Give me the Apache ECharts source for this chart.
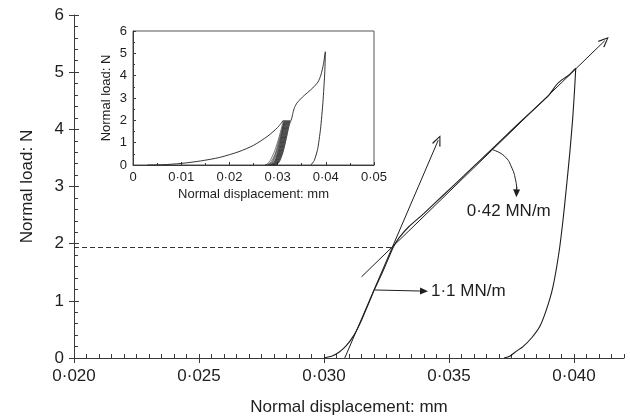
<!DOCTYPE html>
<html>
<head>
<meta charset="utf-8">
<script src="https://cdn.jsdelivr.net/npm/echarts@6/dist/echarts.min.js"></script>
<style>
html, body { margin: 0; padding: 0; background: #fff; }
#chart { width: 630px; height: 419px; }
</style>
</head>
<body>
<div id="chart"></div>
<script>
// tick labels
var xTicks = [0.020, 0.025, 0.030, 0.035, 0.040];
var yTicks = [0, 1, 2, 3, 4, 5, 6];

// main plot: last load / unload cycle
var mainLoad = [[0.0300, 0], [0.0303, 0.03], [0.0306, 0.1], [0.0309, 0.22], [0.0312, 0.4],
  [0.0315, 0.66], [0.0320, 1.18], [0.0324, 1.56], [0.03276, 1.93], [0.0330, 2.1],
  [0.0334, 2.3], [0.0340, 2.53], [0.0348, 2.86], [0.0356, 3.19], [0.0368, 3.69],
  [0.0380, 4.19], [0.0390, 4.6], [0.0393, 4.78], [0.0395, 4.86], [0.0398, 4.95],
  [0.0400, 5.04], [0.04007, 5.07]];
var mainUnload = [[0.04007, 5.07], [0.04003, 4.75], [0.03995, 4.2], [0.03983, 3.58],
  [0.0397, 3.0], [0.03956, 2.41], [0.0394, 1.85], [0.03916, 1.25], [0.0389, 0.85],
  [0.03863, 0.55], [0.0383, 0.35], [0.03796, 0.2], [0.0377, 0.12], [0.03743, 0.03], [0.0372, 0]];

// stiffness lines and annotations
var tangentSteep = [[0.03083, 0], [0.03457, 3.81]];
var tangentShallow = [[0.0315, 1.42], [0.04123, 5.55]];
var crossPoint = [0.03276, 1.93];
var steepArrow = [[0.03203, 1.19], [0.0340, 1.17]];
var shallowArc = [[0.03676, 3.64], [0.03722, 3.53], [0.03752, 3.32], [0.03767, 3.1], [0.03771, 2.96]];
var shallowTip = [[0.03771, 3.0], [0.0377, 2.88]];
var shallowLabelAt = [0.03739, 2.56];
var stiffLabels = ['1\u00b71 MN/m', '0\u00b742 MN/m'];

// inset: whole test
var insetFirstLoad = [[0.003, 0], [0.006, 0.01], [0.010, 0.07], [0.014, 0.18], [0.018, 0.34],
  [0.022, 0.6], [0.025, 0.88], [0.028, 1.3], [0.030, 1.68], [0.0312, 2.0]];
var insetLoops = [
  [[0.0312, 2.0], [0.0305, 1.4], [0.0296, 0.75], [0.0286, 0.25], [0.0279, 0.05], [0.0274, 0],
   [0.0284, 0.08], [0.0294, 0.45], [0.0303, 1.1], [0.0309, 1.6], [0.0314, 2.0]],
  [[0.0314, 2.0], [0.0308, 1.4], [0.0300, 0.75], [0.0291, 0.22], [0.0284, 0.04], [0.0280, 0],
   [0.0289, 0.1], [0.0298, 0.5], [0.0306, 1.15], [0.0311, 1.65], [0.0316, 2.0]],
  [[0.0316, 2.0], [0.0310, 1.4], [0.0303, 0.75], [0.0295, 0.22], [0.0288, 0.04], [0.0284, 0],
   [0.0293, 0.12], [0.0301, 0.55], [0.0308, 1.2], [0.0313, 1.7], [0.0318, 2.0]],
  [[0.0318, 2.0], [0.0312, 1.4], [0.0305, 0.75], [0.0297, 0.22], [0.0291, 0.04], [0.0287, 0],
   [0.0295, 0.12], [0.0303, 0.55], [0.0310, 1.2], [0.0315, 1.7], [0.0320, 2.0]],
  [[0.0320, 2.0], [0.0314, 1.4], [0.0307, 0.75], [0.0299, 0.22], [0.0293, 0.04], [0.0290, 0],
   [0.0297, 0.12], [0.0305, 0.55], [0.0312, 1.2], [0.0317, 1.7], [0.0322, 2.0]],
  [[0.0322, 2.0], [0.0316, 1.4], [0.0309, 0.75], [0.0301, 0.22], [0.0295, 0.04], [0.0292, 0],
   [0.0299, 0.12], [0.0307, 0.55], [0.0314, 1.2], [0.0319, 1.7], [0.0324, 2.0]],
  [[0.0324, 2.0], [0.0318, 1.4], [0.0311, 0.75], [0.0303, 0.22], [0.0297, 0.04], [0.0294, 0],
   [0.0301, 0.12], [0.0309, 0.55], [0.0316, 1.2], [0.0321, 1.7], [0.0326, 2.0]],
  [[0.0326, 2.0], [0.0320, 1.4], [0.0313, 0.75], [0.0305, 0.22], [0.0299, 0.04], [0.0297, 0],
   [0.0303, 0.12], [0.0311, 0.55], [0.0318, 1.2], [0.0323, 1.7], [0.0328, 2.0]]
];
var insetFinalLoad = [[0.0328, 2.0], [0.0330, 2.15], [0.0332, 2.35], [0.0335, 2.57], [0.0340, 2.77],
  [0.0352, 3.05], [0.0373, 3.45], [0.0384, 3.72], [0.0390, 4.04], [0.0395, 4.5], [0.0399, 5.07]];
var insetFinalUnload = [[0.0399, 5.07], [0.0398, 4.2], [0.0394, 2.8], [0.0389, 1.6],
  [0.0383, 0.7], [0.0376, 0.2], [0.0369, 0]];

var FONT = 'Liberation Sans, Arial, sans-serif';
var INK = '#1e1e1e';
var AXIS = '#3a3a3a';
var openHead = 'path://M5,0 L10,9 L8.8,9.6 L5,2.2 L1.2,9.6 L0,9 Z';

function dotFmt(d) {
  return function (v) { return v === 0 ? '0' : v.toFixed(d).replace('.', '\u00b7'); };
}
function curve(data, xi, w, sm) {
  return {
    type: 'line', data: data, xAxisIndex: xi, yAxisIndex: xi, showSymbol: false,
    symbol: 'none', smooth: sm, silent: true, animation: false, z: 3,
    lineStyle: { color: INK, width: w }
  };
}

var series = [
  curve(mainLoad, 0, 1.1, 0.12),
  curve(mainUnload, 0, 1.1, 0.2),
  curve(insetFirstLoad, 2, 0.9, 0.25),
  curve(insetFinalLoad, 2, 0.9, 0.2),
  curve(insetFinalUnload, 2, 0.9, 0.2)
];
insetLoops.forEach(function (loop) { series.push(curve(loop, 2, 0.6, 0.25)); });

series.push({
  type: 'line', data: [], xAxisIndex: 0, yAxisIndex: 0, silent: true, animation: false,
  markLine: {
    silent: true, animation: false, precision: 6,
    label: { show: false },
    lineStyle: { color: INK, width: 1, type: 'solid' },
    data: [
      [{ coord: tangentSteep[0], symbol: 'none' },
       { coord: tangentSteep[1], symbol: openHead, symbolSize: [9, 11] }],
      [{ coord: tangentShallow[0], symbol: 'none' },
       { coord: tangentShallow[1], symbol: openHead, symbolSize: [9, 11] }],
      [{ coord: [xTicks[0], crossPoint[1]], symbol: 'none', lineStyle: { type: [5, 3], width: 0.9 } },
       { coord: crossPoint, symbol: 'none' }],
      [{ coord: steepArrow[0], symbol: 'none',
         label: { show: true, position: 'end', distance: 7, formatter: stiffLabels[0],
                  color: INK, fontSize: 17, fontFamily: FONT } },
       { coord: steepArrow[1], symbol: 'triangle', symbolSize: [7, 8] }],
      [{ coord: shallowTip[0], symbol: 'none' },
       { coord: shallowTip[1], symbol: 'triangle', symbolSize: [7, 8] }]
    ]
  },
  markPoint: {
    silent: true, animation: false, symbol: 'circle', symbolSize: 0,
    label: { show: true, position: 'inside', color: INK, fontSize: 17, fontFamily: FONT,
             formatter: function (p) { return p.name; } },
    data: [{ name: stiffLabels[1], coord: shallowLabelAt }]
  }
});

// curved pointer to the shallow line
series.push(curve(shallowArc, 0, 1, 0.5));

var chart = echarts.init(document.getElementById('chart'), null, { renderer: 'canvas' });
chart.setOption({
  animation: false,
  textStyle: { fontFamily: FONT },
  grid: [
    { left: 74, top: 15, right: 6, bottom: 61, outerBoundsMode: 'none', containLabel: false },
    { left: 133, top: 31, width: 241, height: 134, show: true, borderColor: '#555', borderWidth: 1,
      outerBoundsMode: 'none', containLabel: false }
  ],
  xAxis: [
    { type: 'value', gridIndex: 0, position: 'bottom', min: 0.020, max: 0.042, interval: 0.0005,
      axisLine: { lineStyle: { color: AXIS, width: 1 } },
      axisTick: { inside: true, length: 4, lineStyle: { color: AXIS } },
      axisLabel: { customValues: xTicks, formatter: dotFmt(3), color: INK, fontSize: 17, margin: 10 },
      splitLine: { show: false },
      name: 'Normal displacement: mm', nameLocation: 'middle', nameGap: 41, nameMoveOverlap: false,
      nameTextStyle: { color: INK, fontSize: 17 } },
    { type: 'value', gridIndex: 0, position: 'bottom', min: 0.020, max: 0.042,
      axisLine: { show: false },
      axisTick: { customValues: xTicks, inside: false, length: 5, lineStyle: { color: AXIS } },
      axisLabel: { show: false }, splitLine: { show: false } },
    { type: 'value', gridIndex: 1, position: 'bottom', min: 0, max: 0.05, interval: 0.01,
      axisLine: { lineStyle: { color: AXIS } },
      axisTick: { inside: true, length: 3, lineStyle: { color: AXIS } },
      minorTick: { show: true, splitNumber: 2, length: 2, lineStyle: { color: AXIS } },
      axisLabel: { formatter: dotFmt(2), color: INK, fontSize: 13, margin: 6 },
      splitLine: { show: false },
      name: 'Normal displacement: mm', nameLocation: 'middle', nameGap: 23, nameMoveOverlap: false,
      nameTextStyle: { color: INK, fontSize: 13 } }
  ],
  yAxis: [
    { type: 'value', gridIndex: 0, position: 'left', min: 0, max: 6, interval: 1,
      axisLine: { show: true, lineStyle: { color: AXIS, width: 1 } },
      axisTick: { show: true, inside: true, length: 5, lineStyle: { color: AXIS } },
      minorTick: { show: true, splitNumber: 5, length: 4, lineStyle: { color: AXIS } },
      axisLabel: { customValues: yTicks, color: INK, fontSize: 17, margin: 10 },
      splitLine: { show: false },
      name: 'Normal load: N', nameLocation: 'middle', nameGap: 38, nameMoveOverlap: false,
      nameTextStyle: { color: INK, fontSize: 17 } },
    { type: 'value', gridIndex: 0, position: 'left', min: 0, max: 6, interval: 1,
      axisLine: { show: false },
      axisTick: { show: true, inside: false, length: 5, lineStyle: { color: AXIS } },
      axisLabel: { show: false }, splitLine: { show: false } },
    { type: 'value', gridIndex: 1, position: 'left', min: 0, max: 6, interval: 1,
      axisLine: { show: true, lineStyle: { color: AXIS } },
      axisTick: { show: true, inside: true, length: 3, lineStyle: { color: AXIS } },
      minorTick: { show: true, splitNumber: 2, length: 2, lineStyle: { color: AXIS } },
      axisLabel: { color: INK, fontSize: 13, margin: 6 },
      splitLine: { show: false },
      name: 'Normal load: N', nameLocation: 'middle', nameGap: 20, nameMoveOverlap: false,
      nameTextStyle: { color: INK, fontSize: 13 } }
  ],
  series: series
});
</script>
</body>
</html>
